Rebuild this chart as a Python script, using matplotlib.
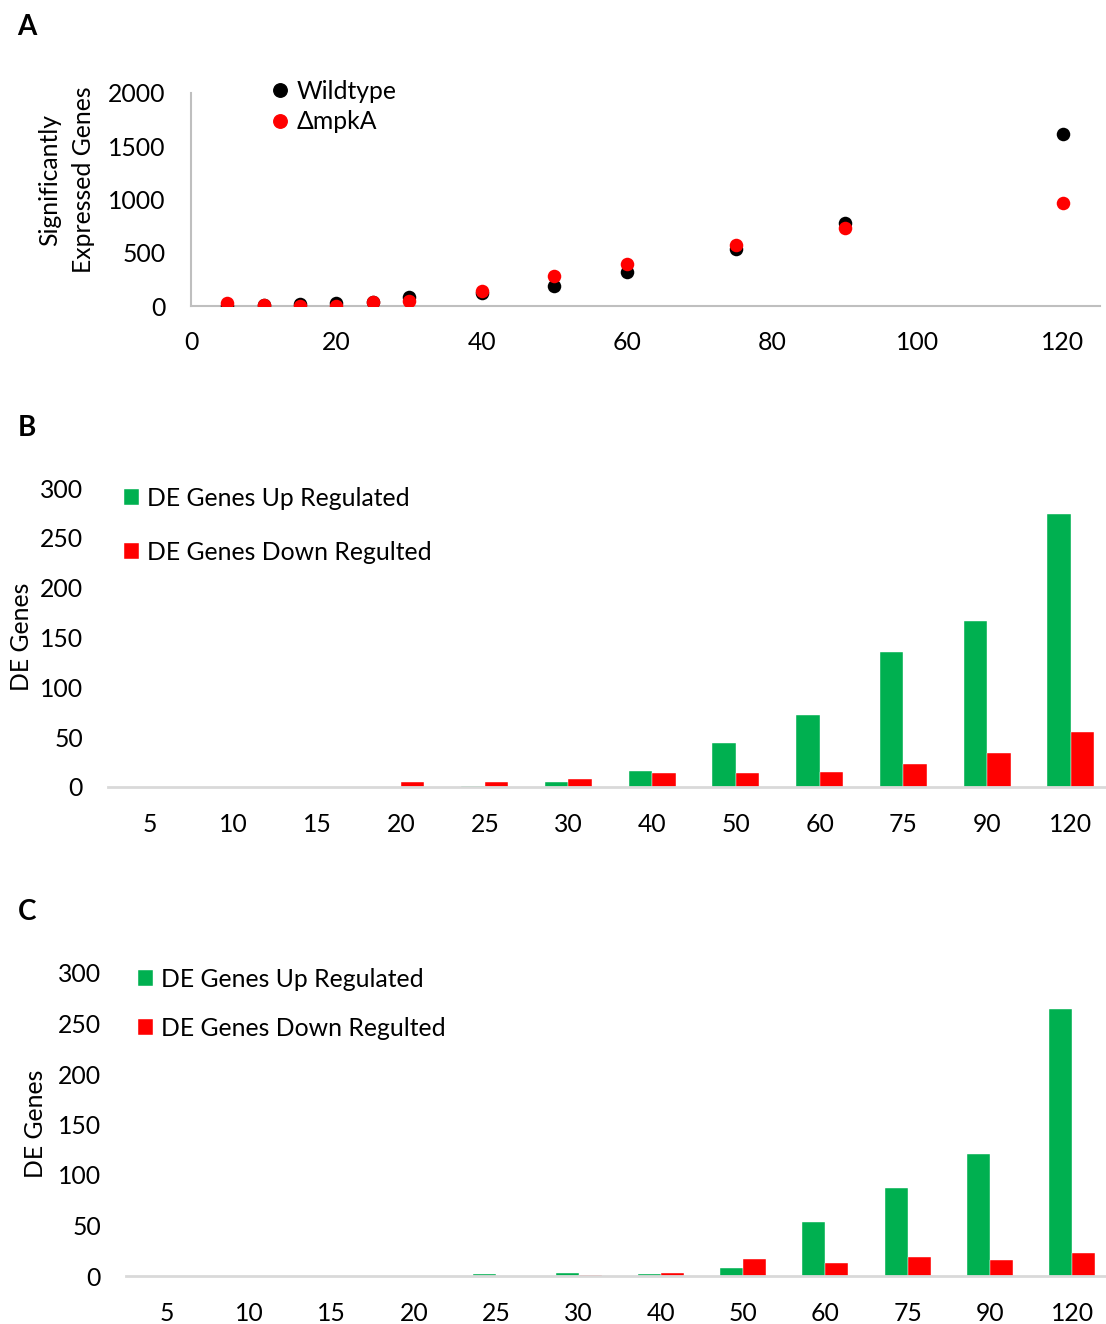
import matplotlib
matplotlib.use("Agg")
import matplotlib.pyplot as plt
from matplotlib.lines import Line2D
import numpy as np

plt.rcParams['font.family'] = ['Lato', 'DejaVu Sans']

# ---- data ----
time_points = [5, 10, 15, 20, 25, 30, 40, 50, 60, 75, 90, 120]
wildtype = [0, 5, 15, 30, 35, 85, 120, 188, 320, 532, 782, 1618]
mpka = [25, 5, 0, 0, 35, 50, 138, 282, 394, 575, 732, 970]

categories = ["5", "10", "15", "20", "25", "30", "40", "50", "60", "75", "90", "120"]
b_up = [0, 0, 0, 0, 1, 5, 16, 44, 72, 135, 167, 274]
b_down = [0, 0, 0, 5, 5, 8, 14, 14, 15, 23, 34, 55]
c_up = [0, 0, 0, 0, 2, 3, 2, 8, 53, 87, 121, 264]
c_down = [0, 0, 0, 0, 0, 1, 3, 17, 13, 19, 16, 23]

W, H = 1106, 1324
fig = plt.figure(figsize=(W / 100, H / 100), dpi=100)

def px_axes(left, top, right, bottom):
    return fig.add_axes([left / W, 1 - bottom / H, (right - left) / W, (bottom - top) / H])

GRAY = "#BFBFBF"
GREEN = "#00B050"
RED = "#FF0000"
FS = 17.8

# ---- Panel A ----
axA = px_axes(191, 93, 1100, 306)
axA.scatter(time_points, wildtype, s=95, color="black", zorder=3, linewidths=0)
axA.scatter(time_points, mpka, s=95, color=RED, zorder=4, linewidths=0)
axA.set_xlim(0, 125.1)
axA.set_ylim(0, 2000)
axA.set_xticks([0, 20, 40, 60, 80, 100, 120])
axA.set_yticks([0, 500, 1000, 1500, 2000])
for s in ["top", "right"]:
    axA.spines[s].set_visible(False)
for s in ["left", "bottom"]:
    axA.spines[s].set_color(GRAY)
    axA.spines[s].set_linewidth(1.5)
axA.tick_params(axis="both", length=0, labelsize=FS)
axA.tick_params(axis="x", pad=18)
axA.tick_params(axis="y", pad=18.5)
axA.set_ylabel("Significantly\nExpressed Genes", fontsize=FS, linespacing=1.55)
axA.yaxis.set_label_coords(95 / W, 1 - 180 / H, transform=fig.transFigure)
handlesA = [Line2D([], [], marker="o", ls="", color="black", markersize=9.7),
            Line2D([], [], marker="o", ls="", color=RED, markersize=9.7)]
axA.legend(handlesA, ["Wildtype", "\u0394mpkA"], loc="upper left",
           bbox_to_anchor=(273 / W, 1 - 80 / H), bbox_transform=fig.transFigure,
           frameon=False, fontsize=FS, handlelength=0.6, handletextpad=0.35,
           labelspacing=0.3, borderaxespad=0, borderpad=0)

def bar_panel(ax, up, down, ylab_x, ylab_y, leg_x, leg_y, spacing):
    x = np.arange(len(categories))
    bw = 0.28
    ax.bar(x - bw / 2, up, width=bw, color=GREEN, edgecolor="white", linewidth=0.3,
           label="DE Genes Up Regulated")
    ax.bar(x + bw / 2, down, width=bw, color=RED, edgecolor="white", linewidth=0.3,
           label="DE Genes Down Regulted")
    ax.set_ylim(0, 300)
    ax.set_yticks(range(0, 301, 50))
    ax.set_xticks(x)
    ax.set_xticklabels(categories)
    for s in ["top", "right", "left"]:
        ax.spines[s].set_visible(False)
    ax.spines["bottom"].set_color("#D9D9D9")
    ax.spines["bottom"].set_linewidth(2)
    ax.tick_params(axis="both", length=0, labelsize=FS)
    ax.tick_params(axis="x", pad=19)
    ax.tick_params(axis="y", pad=18)
    ax.set_ylabel("DE Genes", fontsize=FS)
    ax.yaxis.set_label_coords(ylab_x / W, 1 - ylab_y / H, transform=fig.transFigure)
    ax.legend(loc="upper left", bbox_to_anchor=(leg_x / W, 1 - leg_y / H),
              bbox_transform=fig.transFigure, frameon=False, fontsize=FS,
              handlelength=0.62, handleheight=0.62, handletextpad=0.3,
              labelspacing=spacing, borderaxespad=0, borderpad=0)

# ---- Panel B ----
axB = px_axes(108, 488, 1106, 787)
axB.set_xlim(-0.5, 11.42)
bar_panel(axB, b_up, b_down, 33, 637, 124, 487, 1.25)

# ---- Panel C ----
axC = px_axes(126, 973, 1106, 1276)
axC.set_xlim(-0.5, 11.41)
bar_panel(axC, c_up, c_down, 47, 1124, 138, 968, 1.05)

# panel letters
for lab, (xx, yy) in {"A": (27, 27), "B": (27, 428), "C": (27, 912)}.items():
    fig.text(xx / W, 1 - yy / H, lab, fontsize=20, fontweight="bold",
             ha="center", va="center")

fig.savefig("out.png", dpi=100)
